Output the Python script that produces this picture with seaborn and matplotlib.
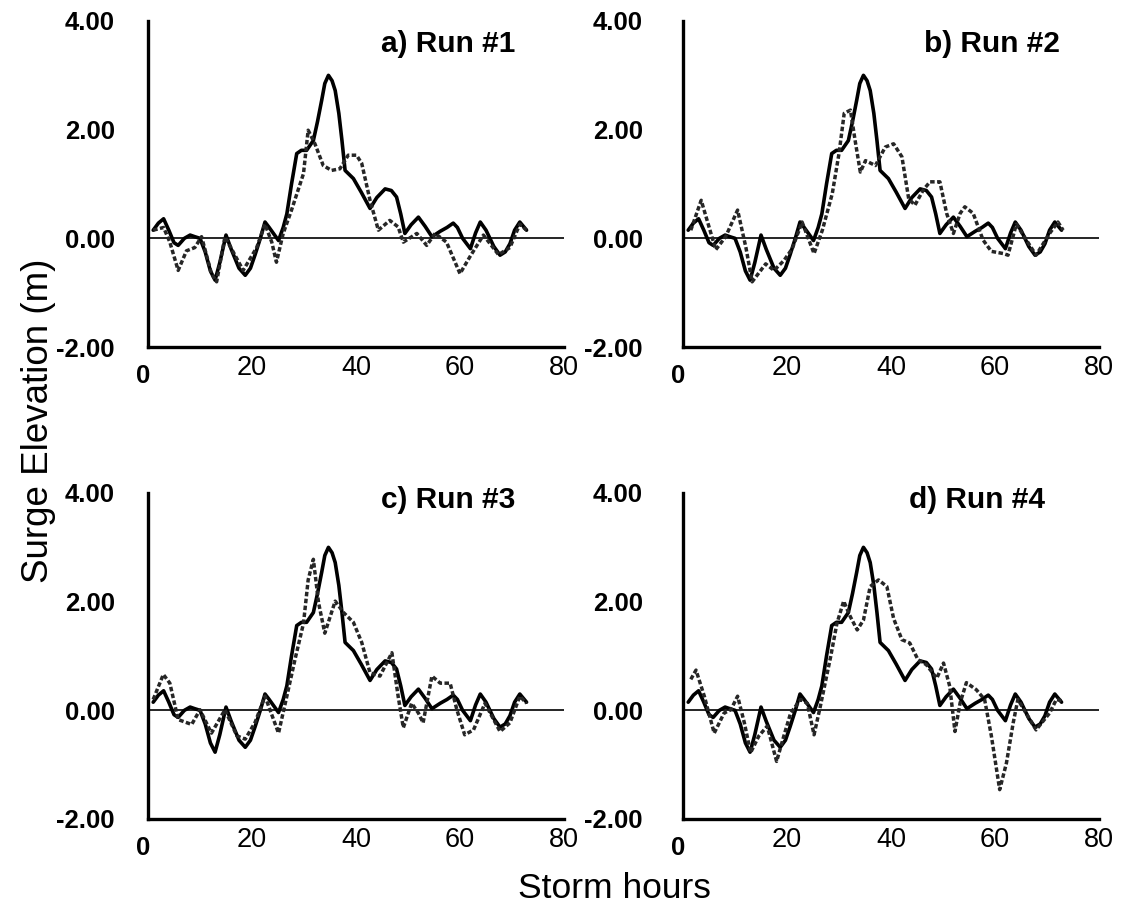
import matplotlib
matplotlib.use("Agg")
import matplotlib.pyplot as plt
import matplotlib.transforms as mtransforms
import pandas as pd
import seaborn as sns

# ---------------- data ----------------
obs_hours = [1.0, 2.0, 3.0, 4.0, 5.0, 5.8, 7.0, 8.1, 9.0, 10.0, 11.0, 12.0, 12.9,
             13.8, 15.0, 16.0, 17.5, 18.7, 19.7, 20.6, 21.6, 22.5, 23.3, 25.1, 26.0,
             26.7, 27.6, 28.6, 29.5, 30.5, 31.8, 32.6, 33.4, 34.0, 34.7, 35.4, 36.0,
             36.7, 37.3, 37.9, 39.5, 41.0, 42.7, 44.0, 45.6, 46.8, 47.8, 48.6, 49.4,
             50.6, 52.0, 53.3, 54.6, 56.2, 57.5, 58.7, 59.5, 60.5, 62.0, 63.0, 63.9,
             65.0, 66.5, 67.7, 68.7, 69.6, 70.5, 71.5, 72.8]
obs_surge = [0.15, 0.28, 0.36, 0.15, -0.08, -0.13, 0.0, 0.06, 0.03, 0.0, -0.25, -0.60,
             -0.77, -0.45, 0.06, -0.20, -0.55, -0.68, -0.55, -0.30, 0.0, 0.30, 0.20,
             -0.04, 0.20, 0.45, 1.00, 1.56, 1.62, 1.62, 1.80, 2.15, 2.54, 2.85, 3.00,
             2.90, 2.72, 2.30, 1.80, 1.25, 1.10, 0.85, 0.55, 0.75, 0.91, 0.88, 0.76,
             0.45, 0.09, 0.25, 0.39, 0.22, 0.03, 0.13, 0.20, 0.28, 0.20, 0.0, -0.19,
             0.10, 0.30, 0.15, -0.15, -0.31, -0.25, -0.10, 0.15, 0.30, 0.15]

run1_hours = [1.0, 3.0, 4.2, 5.8, 7.4, 9.0, 10.3, 12.2, 13.2, 14.8, 18.3, 20.9, 22.5,
              23.8, 24.7, 26.0, 27.6, 29.9, 30.8, 32.1, 33.7, 35.3, 36.9, 38.5, 40.1,
              41.1, 42.7, 44.3, 46.5, 48.1, 49.1, 51.7, 53.6, 55.2, 57.4, 60.0, 61.9,
              64.5, 67.4, 69.6, 71.5, 72.8]
run1_surge = [0.15, 0.20, -0.07, -0.59, -0.23, -0.17, 0.03, -0.65, -0.80, 0.03, -0.59,
              -0.17, 0.26, -0.07, -0.44, 0.09, 0.52, 1.19, 1.99, 1.74, 1.34, 1.25, 1.28,
              1.53, 1.53, 1.38, 0.70, 0.15, 0.33, 0.21, -0.07, 0.09, -0.13, 0.09, -0.07,
              -0.65, -0.34, 0.06, -0.30, -0.17, 0.26, 0.15]

run2_hours = [1.5, 3.5, 6.3, 8.2, 10.5, 12.1, 13.3, 15.9, 17.5, 19.4, 21.0, 22.9, 25.2,
              26.8, 28.7, 30.0, 31.0, 32.2, 33.1, 34.1, 35.1, 37.0, 38.9, 40.5, 42.1,
              43.4, 44.6, 46.2, 47.5, 49.4, 50.7, 52.0, 53.3, 54.2, 55.8, 57.7, 59.3,
              61.6, 62.5, 64.1, 67.9, 70.5, 72.1, 73.1]
run2_surge = [0.15, 0.70, -0.21, 0.03, 0.52, -0.17, -0.80, -0.47, -0.59, -0.41, -0.19,
              0.30, -0.28, 0.15, 0.82, 1.56, 2.30, 2.36, 1.80, 1.22, 1.43, 1.34, 1.68,
              1.74, 1.50, 0.73, 0.61, 0.89, 1.04, 1.04, 0.46, 0.09, 0.46, 0.58, 0.46,
              -0.03, -0.24, -0.28, -0.31, 0.26, -0.31, 0.09, 0.30, 0.15]

run3_hours = [1.0, 2.95, 4.2, 5.8, 8.4, 10.0, 12.2, 14.8, 17.1, 18.7, 20.6, 22.5, 25.1,
              26.7, 28.3, 29.9, 30.8, 31.8, 32.8, 34.0, 36.0, 37.6, 39.5, 41.1, 42.7,
              44.6, 46.9, 48.1, 49.1, 50.7, 52.0, 52.9, 54.6, 56.2, 58.1, 59.4, 60.9,
              62.6, 64.8, 67.7, 69.6, 71.5, 72.8]
run3_surge = [0.20, 0.66, 0.50, -0.17, -0.26, 0.01, -0.42, 0.01, -0.47, -0.53, -0.22,
              0.26, -0.42, 0.26, 0.95, 1.60, 2.40, 2.78, 1.98, 1.42, 2.01, 1.80, 1.62,
              1.25, 0.69, 0.63, 1.06, 0.26, -0.32, 0.13, -0.05, -0.23, 0.63, 0.50, 0.50,
              0.01, -0.45, -0.36, 0.13, -0.39, -0.23, 0.26, 0.13]

run4_hours = [1.5, 2.5, 4.1, 6.0, 7.9, 9.2, 10.5, 11.8, 13.0, 14.6, 16.2, 18.0, 19.4,
              20.7, 22.6, 23.9, 25.2, 26.4, 28.4, 29.6, 30.9, 32.2, 33.5, 34.7, 36.0,
              37.6, 39.2, 40.5, 42.1, 43.6, 45.2, 46.8, 48.8, 50.1, 51.3, 52.3, 53.3,
              54.5, 56.4, 58.0, 59.3, 60.9, 62.2, 63.5, 64.4, 67.9, 70.5, 71.8, 73.1]
run4_surge = [0.57, 0.74, 0.26, -0.42, -0.05, 0.01, 0.26, -0.23, -0.78, -0.47, -0.29,
              -0.94, -0.47, -0.05, 0.20, 0.13, -0.45, 0.07, 0.99, 1.60, 2.01, 1.72, 1.48,
              1.66, 2.28, 2.40, 2.28, 1.69, 1.30, 1.24, 0.93, 0.84, 0.59, 0.87, 0.44,
              -0.39, 0.14, 0.51, 0.38, 0.20, -0.47, -1.46, -0.97, -0.23, 0.20, -0.36,
              -0.05, 0.20, 0.17]

panel_titles = ["a) Run #1", "b) Run #2", "c) Run #3", "d) Run #4"]
y_ticks = [-2, 0, 2, 4]
y_tick_labels = ["-2.00", "0.00", "2.00", "4.00"]
x_ticks = [20, 40, 60, 80]
x_tick_labels = ["20", "40", "60", "80"]
y_label = "Surge Elevation (m)"
x_label = "Storm hours"

# ---------------- style ----------------
sns.set_style("white")
plt.rcParams["font.family"] = ["Liberation Sans", "DejaVu Sans"]
for key in ("text.color", "axes.labelcolor", "xtick.color", "ytick.color"):
    plt.rcParams[key] = "black"

W, H = 1123, 906
fig = plt.figure(figsize=(W / 100, H / 100), dpi=100)

# axes rectangles in pixels: (left, top, right, bottom)
rects_px = [(148, 21, 564, 347), (683, 21, 1099, 347),
            (148, 493, 564, 819), (683, 493, 1099, 819)]
title_pos = [(0.882, 0.930), (0.906, 0.930), (0.882, 0.978), (0.870, 0.978)]
ytick_pad = [24, 29, 24, 29]

runs = [(run1_hours, run1_surge), (run2_hours, run2_surge),
        (run3_hours, run3_surge), (run4_hours, run4_surge)]
obs_df = pd.DataFrame({"hour": obs_hours, "surge": obs_surge})

for i, ((l, t, r, b), (rh, rs)) in enumerate(zip(rects_px, runs)):
    ax = fig.add_axes([l / W, 1 - b / H, (r - l) / W, (b - t) / H])
    run_df = pd.DataFrame({"hour": rh, "surge": rs})

    ax.axhline(0, color="black", lw=1.2, zorder=1)
    sns.lineplot(data=obs_df, x="hour", y="surge", ax=ax, color="black",
                 lw=2.6, sort=False, estimator=None, zorder=3,
                 solid_joinstyle="round", solid_capstyle="round")
    sns.lineplot(data=run_df, x="hour", y="surge", ax=ax, color="#262626",
                 lw=2.5, sort=False, estimator=None, zorder=4,
                 linestyle=(0, (1.3, 0.7)), dash_joinstyle="round")

    ax.set_xlim(0, 80)
    ax.set_ylim(-2, 4)
    ax.set_xlabel("")
    ax.set_ylabel("")

    for side in ("top", "right"):
        ax.spines[side].set_visible(False)
    for side in ("left", "bottom"):
        ax.spines[side].set_linewidth(2.4)
        ax.spines[side].set_color("black")

    ax.set_yticks(y_ticks)
    ax.set_yticklabels(y_tick_labels, fontsize=18.5, fontweight="bold")
    ax.set_xticks(x_ticks)
    ax.set_xticklabels(x_tick_labels, fontsize=19.5)
    ax.tick_params(axis="y", direction="in", length=3, width=1.5,
                   pad=ytick_pad[i], colors="black")
    ax.tick_params(axis="x", direction="in", length=3, width=1.5,
                   pad=6, colors="black")

    trans = mtransforms.blended_transform_factory(ax.transData, ax.transAxes)
    ax.text(-1.0, -0.088, "0", transform=trans, fontsize=18.5, fontweight="bold",
            ha="center", va="center", clip_on=False)

    tx, ty = title_pos[i]
    ax.text(tx, ty, panel_titles[i], transform=ax.transAxes, fontsize=21.5,
            fontweight="bold", ha="right", va="center")

fig.text(39 / W, 1 - 421 / H, y_label, rotation=90, fontsize=26.5,
         ha="center", va="center")
fig.text(614 / W, 1 - 888 / H, x_label, fontsize=25.5, ha="center", va="center")

fig.savefig("out.png", dpi=100)
